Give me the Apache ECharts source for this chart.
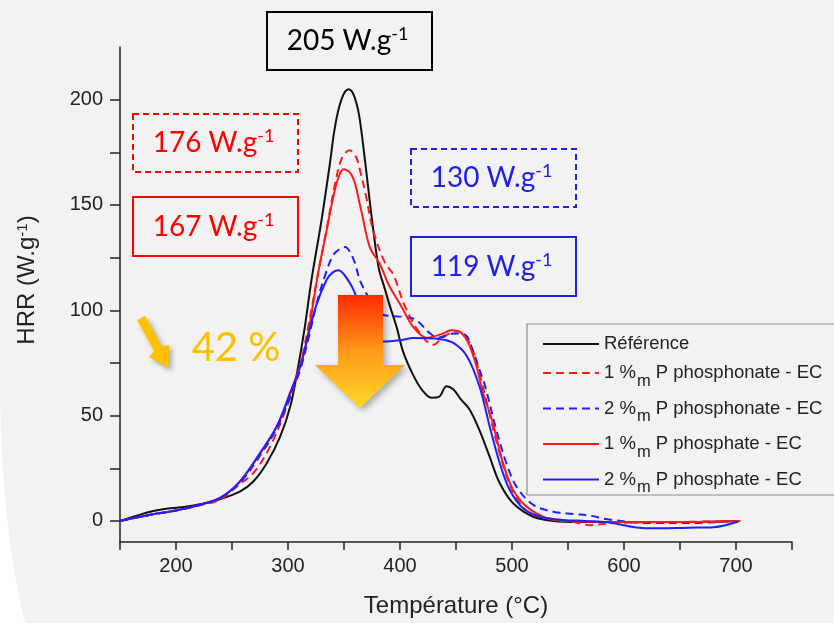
<!DOCTYPE html>
<html>
<head>
<meta charset="utf-8">
<script src="https://cdn.jsdelivr.net/npm/echarts@6/dist/echarts.min.js"></script>
<style>
  html, body { margin: 0; padding: 0; background: #ffffff; overflow: hidden; }
  #panel { position: absolute; left: 0; top: 0; width: 834px; height: 700px;
           background: #f2f2f2; border-bottom-left-radius: 72px 320px; }
  #chart { position: absolute; left: 0; top: 0; width: 834px; height: 623px; }
</style>
</head>
<body>
<div id="panel"></div>
<div id="chart"></div>
<script>
// Heat release rate curves (HRR, W/g) versus temperature (°C)
const seriesNames = [
  'Référence',
  '1 %m P phosphonate - EC',
  '2 %m P phosphonate - EC',
  '1 %m P phosphate - EC',
  '2 %m P phosphate - EC'
];

const tempRef = [150, 165, 177, 195, 210, 222, 239, 257, 269, 281, 293, 302, 308, 315, 321, 330, 337.5, 341, 344.5, 348, 351, 354, 357.5, 361, 364, 369, 375, 381, 386, 391, 397, 403, 412, 420, 428, 435, 441.5, 447.5, 454, 462, 471, 480, 489, 501, 519, 537, 560, 600, 650, 700];
const hrrRef  = [0, 2.5, 4.4, 6, 6.8, 8, 10.3, 13.9, 18.7, 27.4, 40, 54.3, 70, 92, 114.5, 143, 170, 184, 194, 200.5, 203.8, 205, 203.5, 198.5, 191, 170, 143, 120, 111, 102, 92, 80, 69, 62, 58.5, 59, 64, 62.5, 58, 53, 43, 30.5, 18, 8.4, 2, 0, -0.5, -0.5, -0.5, 0];

const tempPhon1 = [150, 177, 200, 221, 239, 254, 269, 284, 299, 310, 318, 327, 331.5, 336, 342, 348, 355, 361, 364, 369, 376, 386.5, 394, 404.5, 418, 430, 436, 442, 451, 458, 465, 471, 478, 486, 496, 505, 515, 535, 555, 570, 590, 650, 704];
const hrrPhon1  = [0, 2.9, 5, 7.4, 10, 16.3, 22.7, 35.3, 54.3, 72, 92, 118, 130, 143, 160, 172, 176, 172.5, 167, 156, 138, 122.6, 117, 101.8, 89, 83.6, 86, 88.4, 90, 88, 81, 70, 55, 38, 20, 10, 4, 1, -0.5, -2, -1, -0.5, 0];

const tempPhon2 = [150, 177, 200, 221, 239, 257, 275, 290, 302, 311, 318, 326, 334, 340.5, 346, 351, 356, 360, 364, 370, 378, 385, 400, 413, 427, 434, 441, 448, 458, 465, 471, 476, 486, 495, 504, 519, 537, 555, 571, 585, 620, 660, 702];
const hrrPhon2  = [0, 2.9, 5, 7.6, 10.8, 18, 31, 44, 59, 72, 86, 104, 118, 126.4, 129, 130, 127, 122, 114.5, 108, 101, 97.9, 97, 95.8, 89, 87, 88, 89, 88.4, 81, 71.7, 64, 43.2, 27.4, 16.3, 7.6, 4.4, 3.3, 2.4, 0.8, -1, -1, 0];

const tempPhos1 = [150, 177, 200, 221, 239, 257, 275, 290, 302, 311, 317, 327, 334.5, 340.5, 345, 349.5, 354, 357, 360, 363, 366, 373, 382, 390, 400, 412, 424, 436, 446, 454, 461, 468.5, 474, 482, 492, 501, 513, 531, 550, 600, 650, 704];
const hrrPhos1  = [0, 2.9, 5, 7.6, 10.8, 18.7, 32, 45, 61, 74, 86, 118, 138, 154, 163, 167, 166, 164, 160, 153, 146, 130, 122, 112, 103, 92, 87, 88.5, 90.5, 89.5, 84.5, 73, 61, 48, 27.4, 14.7, 6.8, 1.3, 0, -0.5, -0.5, 0];

const tempPhos2 = [150, 177, 200, 221, 239, 257, 275, 290, 302, 311, 317, 325, 334.5, 340, 345, 350, 357, 361, 370, 378, 385, 400, 412, 436, 448, 460, 471, 480, 489, 498, 510, 525, 545, 565, 585, 620, 659, 680, 702];
const hrrPhos2  = [0, 2.9, 5, 7.6, 10.8, 18.7, 32.2, 44.8, 60.7, 73.3, 86, 102, 114.5, 118, 119, 117, 111.3, 106.5, 95, 88, 85.2, 85.8, 86.8, 86.3, 84.4, 78, 63.8, 45, 27.5, 14.7, 6, 2, 0.5, 0, -0.6, -3.5, -3.2, -3, -0.3];

const xLabelTicks = [200, 300, 400, 500, 600, 700];
const yTicks = [0, 25, 50, 75, 100, 125, 150, 175, 200];
const yLabelTicks = [0, 50, 100, 150, 200];
const reductionText = '42 %';

const zip = (xs, ys) => xs.map((x, i) => [x, ys[i]]);
const peak = ys => Math.max(...ys);

const RED = '#ff1a1a', BLUE = '#1f1fff', BLACK = '#111111';
const BOX_BLUE = '#2020e6';
const axisFont = '"Liberation Sans", Arial, sans-serif';
const noteFont = 'Lato, "Open Sans", sans-serif';

const lineSeries = (name, xs, ys, color, dashed) => ({
  name, type: 'line', data: zip(xs, ys), symbol: 'none', smooth: 0.35,
  lineStyle: { color, width: 2, type: dashed ? [8, 5] : 'solid' },
  itemStyle: { color }
});

// Value box with a superscript unit
function valueBox(x, y, w, h, value, color, dashed) {
  return {
    type: 'group', z: 20,
    children: [
      { type: 'rect', shape: { x, y, width: w, height: h },
        style: { fill: 'rgba(0,0,0,0)', stroke: color, lineWidth: 2, lineDash: dashed ? [6, 4] : null } },
      { type: 'text', x: x + w / 2 - 2, y: y + h / 2,
        style: { text: value + ' W.g{sup|-1}', fill: color, font: '28px ' + noteFont,
                 align: 'center', verticalAlign: 'middle',
                 rich: { sup: { fontSize: 18, fontFamily: noteFont, fill: color, padding: [0, 0, 13, 0] } } } }
    ]
  };
}

const chart = echarts.init(document.getElementById('chart'), null, { renderer: 'canvas' });

chart.setOption({
  backgroundColor: 'transparent',
  animation: false,
  grid: { left: 120, right: 42, top: 47, bottom: 81 },
  xAxis: {
    type: 'value', min: 150, max: 750, interval: 50,
    axisLine: { onZero: false, lineStyle: { color: '#222', width: 1.5 } },
    axisTick: { inside: false, length: 8, lineStyle: { color: '#222', width: 1.5 } },
    axisLabel: { fontSize: 20, fontFamily: axisFont, color: '#222', margin: 14,
                 formatter: v => xLabelTicks.includes(v) ? String(v) : '' },
    splitLine: { show: false },
    name: 'Température (°C)', nameLocation: 'middle', nameGap: 52,
    nameTextStyle: { fontSize: 24, fontFamily: axisFont, color: '#222' }
  },
  yAxis: {
    type: 'value', min: -10, max: 225,
    axisLine: { show: true, onZero: false, lineStyle: { color: '#222', width: 1.5 } },
    axisTick: { show: true, length: 10, customValues: yTicks, lineStyle: { color: '#222', width: 1.5 } },
    axisLabel: { fontSize: 20, fontFamily: axisFont, color: '#222', margin: 17, customValues: yLabelTicks },
    splitLine: { show: false },
    name: 'HRR (W.g{sup|-1})', nameLocation: 'middle', nameRotate: 90, nameGap: 80,
    nameTextStyle: { fontSize: 24, fontFamily: axisFont, color: '#222', padding: [0, 0, 0, 29],
                     rich: { sup: { fontSize: 15, fontFamily: axisFont, color: '#222', padding: [0, 0, 10, 0] } } }
  },
  legend: {
    orient: 'vertical', left: 542, top: 334, padding: 0,
    itemWidth: 56, itemHeight: 14, itemGap: 2.5,
    itemStyle: { opacity: 0 },
    data: seriesNames,
    formatter: n => n.replace('%m', '%{sub|m}'),
    textStyle: { fontSize: 18.5, fontFamily: axisFont, color: '#222', lineHeight: 20,
                 rich: { sub: { fontSize: 16.5, fontFamily: axisFont, color: '#222', lineHeight: 14, padding: [16, 0, 0, 1] } } }
  },
  series: [
    lineSeries(seriesNames[0], tempRef, hrrRef, BLACK, false),
    lineSeries(seriesNames[1], tempPhon1, hrrPhon1, RED, true),
    lineSeries(seriesNames[2], tempPhon2, hrrPhon2, BLUE, true),
    lineSeries(seriesNames[3], tempPhos1, hrrPhos1, RED, false),
    lineSeries(seriesNames[4], tempPhos2, hrrPhos2, BLUE, false)
  ],
  graphic: [
    // legend frame
    { type: 'rect', z: 1, shape: { x: 527, y: 324, width: 330, height: 171 },
      style: { fill: '#f2f2f2', stroke: '#8a8a8a', lineWidth: 1.2 } },
    valueBox(267, 12, 165, 58, peak(hrrRef), '#000000', false),
    valueBox(133, 114, 165, 58, peak(hrrPhon1), '#ff0000', true),
    valueBox(133, 197, 165, 59, peak(hrrPhos1), '#ff0000', false),
    valueBox(411, 149, 165, 58, peak(hrrPhon2), BOX_BLUE, true),
    valueBox(411, 237, 165, 59, peak(hrrPhos2), BOX_BLUE, false),
    // large downward arrow
    { type: 'polygon', z: 25,
      shape: { points: [[338, 295], [383, 295], [383, 365], [405, 365], [360, 408], [315, 365], [338, 365]] },
      style: { fill: { type: 'linear', x: 0, y: 0, x2: 0, y2: 1,
                       colorStops: [{ offset: 0, color: '#ff2a00' }, { offset: 0.5, color: '#ff9a1a' }, { offset: 1, color: '#ffd826' }] },
               shadowBlur: 6, shadowOffsetX: 3, shadowOffsetY: 3, shadowColor: 'rgba(0,0,0,0.3)' } },
    // small arrow beside the reduction figure
    { type: 'polygon', z: 25,
      shape: { points: [[145.0, 315.8], [161.8, 346.5], [169.0, 345.0], [168.5, 368], [149.0, 357.0], [154.2, 351.0], [137.2, 320.2]] },
      style: { fill: '#ffc000', shadowBlur: 5, shadowOffsetX: 3, shadowOffsetY: 3, shadowColor: 'rgba(0,0,0,0.3)' } },
    { type: 'text', z: 25, x: 236, y: 348,
      style: { text: reductionText, fill: '#ffc000', font: '40px ' + noteFont, align: 'center', verticalAlign: 'middle' } }
  ]
});
</script>
</body>
</html>
